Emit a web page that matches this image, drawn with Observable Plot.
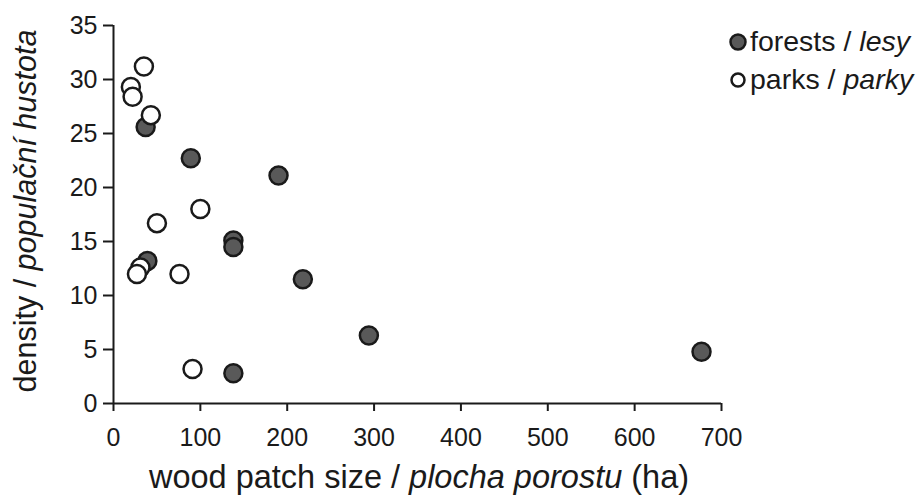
<!DOCTYPE html>
<html><head><meta charset="utf-8">
<script src="https://cdn.jsdelivr.net/npm/d3@7"></script>
<script src="https://cdn.jsdelivr.net/npm/@observablehq/plot@0.6"></script>
<style>
body{margin:0;background:#fff;font-family:"Liberation Sans",Arial,sans-serif;}
#wrap{position:relative;width:920px;height:497px;}
</style></head>
<body><div id="wrap"></div>
<script>
const forestX = [37, 89, 190, 138, 138, 39, 218, 294, 677, 138];
const forestY = [25.6, 22.7, 21.1, 15.1, 14.5, 13.2, 11.5, 6.3, 4.8, 2.8];
const parkX = [35, 20, 22, 43, 50, 100, 31, 27, 76, 91];
const parkY = [31.2, 29.3, 28.4, 26.7, 16.7, 18.0, 12.6, 12.0, 12.0, 3.2];
const xTicks = [0, 100, 200, 300, 400, 500, 600, 700];
const yTicks = [0, 5, 10, 15, 20, 25, 30, 35];
const seriesNames = [["forests / ", "lesy"], ["parks / ", "parky"]];

const forests = forestX.map((x, i) => ({x, y: forestY[i]}));
const parks = parkX.map((x, i) => ({x, y: parkY[i]}));

const ink = "#1a1a1a";
const font = '"Liberation Sans", Arial, sans-serif';
const chart = Plot.plot({
  width: 920, height: 497,
  marginLeft: 113, marginRight: 199, marginTop: 25, marginBottom: 94,
  style: {fontFamily: font, color: ink, background: "white"},
  x: {domain: [0, 700], ticks: xTicks},
  y: {domain: [0, 35], ticks: yTicks},
  marks: [
    Plot.axisX({ticks: xTicks, tickSize: 8, tickPadding: 17, strokeWidth: 2, label: null}),
    Plot.axisY({ticks: yTicks, tickSize: 10, tickPadding: 6, strokeWidth: 2, label: null}),
    Plot.ruleX([0], {stroke: ink, strokeWidth: 2}),
    Plot.ruleY([0], {stroke: ink, strokeWidth: 2}),
    Plot.dot(forests, {x: "x", y: "y", r: 9, fill: "#595959", stroke: ink, strokeWidth: 2.5}),
    Plot.dot(parks, {x: "x", y: "y", r: 9, fill: "white", stroke: ink, strokeWidth: 2.5})
  ]
});
document.getElementById("wrap").appendChild(chart);

const svg = d3.select(chart);
svg.selectAll('g[aria-label$="tick label"]').style("font-size", "25px").attr("font-size", 25);
svg.selectAll('g[aria-label$="tick label"] text').style("font-size", "25px");

// axis titles
const xt = svg.append("text").attr("x", 419).attr("y", 488).attr("text-anchor", "middle")
  .attr("font-family", font).style("font-size", "32.5px").attr("fill", ink);
xt.append("tspan").text("wood patch size / ");
xt.append("tspan").attr("font-style", "italic").text("plocha porostu");
xt.append("tspan").text(" (ha)");

const yt = svg.append("text").attr("transform", "translate(36,211) rotate(-90)").attr("text-anchor", "middle")
  .attr("font-family", font).style("font-size", "30.5px").attr("fill", ink);
yt.append("tspan").text("density / ");
yt.append("tspan").attr("font-style", "italic").text("populační hustota");

// legend
const fills = ["#595959", "white"];
const radii = [7.5, 6.5];
seriesNames.forEach((n, i) => {
  const g = svg.append("g").attr("transform", `translate(738,${42 + i * 38})`);
  g.append("circle").attr("r", radii[i]).attr("fill", fills[i]).attr("stroke", ink).attr("stroke-width", 2.5);
  const t = g.append("text").attr("x", 12).attr("y", 9).attr("text-anchor", "start")
    .attr("font-family", font).style("font-size", "28.5px").attr("fill", ink);
  t.append("tspan").text(n[0]);
  t.append("tspan").attr("font-style", "italic").text(n[1]);
});
</script></body></html>
